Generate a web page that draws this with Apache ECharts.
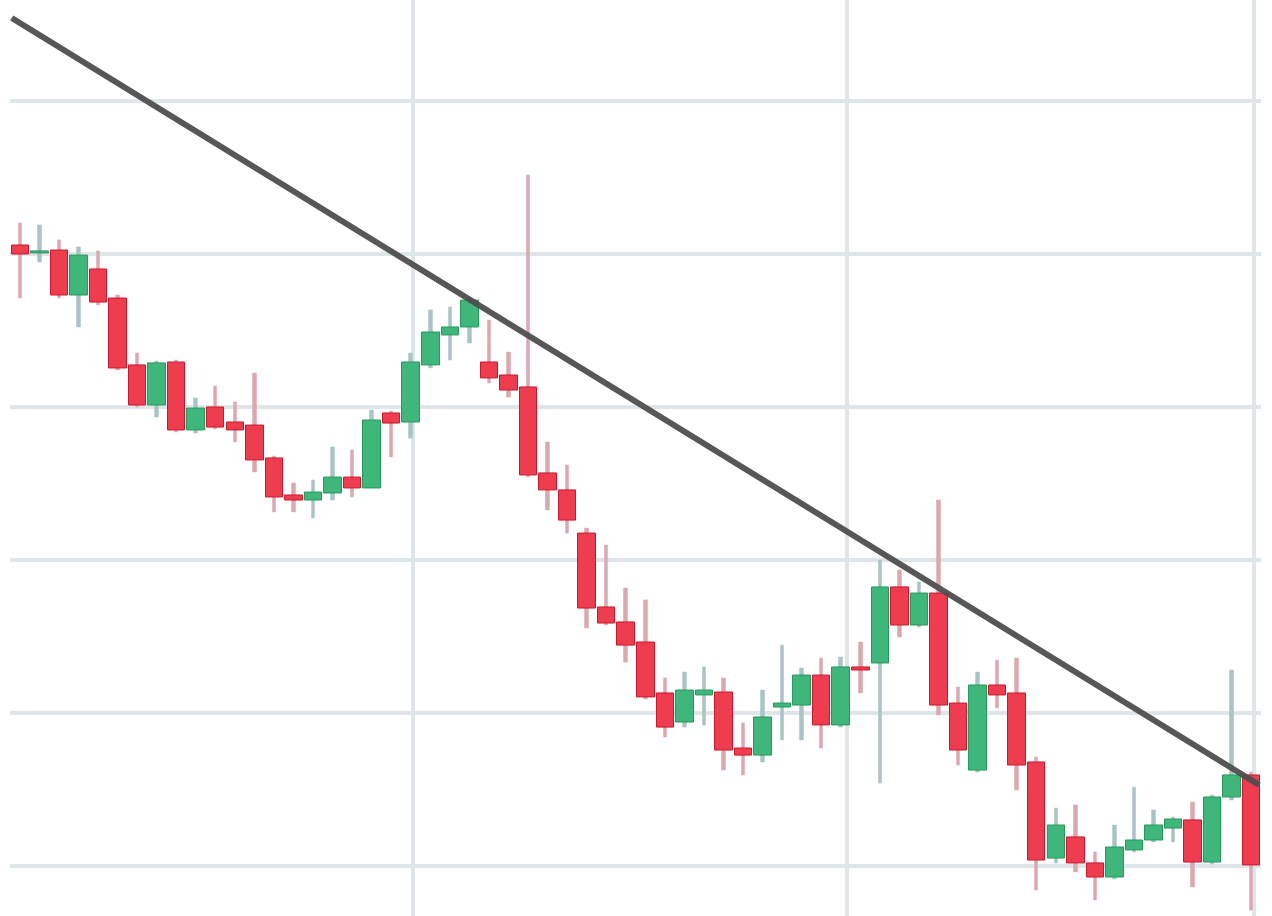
<!DOCTYPE html>
<html>
<head>
<meta charset="utf-8">
<script src="https://cdn.jsdelivr.net/npm/echarts@6/dist/echarts.min.js"></script>
<style>html,body{margin:0;padding:0;background:#fff;}#c{width:1272px;height:916px;}</style>
</head>
<body>
<div id="c"></div>
<script>
const categories = ["1","2","3","4","5","6","7","8","9","10","11","12","13","14","15","16","17","18","19","20","21","22","23","24","25","26","27","28","29","30","31","32","33","34","35","36","37","38","39","40","41","42","43","44","45","46","47","48","49","50","51","52","53","54","55","56","57","58","59","60","61","62","63","64"];
const opens  = [50.59,50.07,50.26,47.32,49.02,47.12,42.75,40.13,42.94,38.50,40.00,39.02,38.82,36.67,34.25,33.92,34.38,35.42,34.71,39.61,39.02,42.75,44.71,45.23,42.94,42.09,41.31,35.69,34.58,31.76,26.93,25.95,24.64,21.31,19.41,21.18,21.37,17.71,17.25,20.39,20.52,22.48,19.22,23.01,23.27,28.24,25.75,27.84,20.65,16.27,21.83,21.31,16.80,10.52,11.90,10.20,9.28,11.05,11.70,12.48,13.01,10.26,14.51,15.95];
const closes = [50.00,50.20,47.32,49.93,46.86,42.55,40.13,42.88,38.50,39.93,38.69,38.50,36.54,34.12,33.92,34.44,35.42,34.71,39.15,38.95,42.94,44.90,45.23,46.99,41.90,41.11,35.56,34.58,32.61,26.86,25.88,24.44,21.05,19.08,21.50,21.50,17.58,17.25,19.74,20.65,22.48,19.22,23.01,22.81,28.24,25.75,27.84,20.52,17.58,21.83,21.18,16.60,10.39,12.68,10.20,9.28,11.24,11.70,12.68,13.07,10.26,14.51,15.95,10.07];
const lows   = [47.12,49.48,47.12,45.23,46.67,42.42,40.00,39.35,38.37,38.30,38.56,37.71,35.75,33.14,33.14,32.75,33.92,34.12,34.71,36.73,37.97,42.55,43.07,44.18,41.57,40.65,35.42,33.27,31.76,25.56,25.75,23.33,20.92,18.43,19.08,19.22,16.27,15.95,16.80,18.24,18.24,17.71,19.08,21.31,15.42,24.97,25.62,19.87,16.60,16.14,20.33,14.97,8.43,10.20,9.61,7.78,9.15,10.92,11.57,11.57,8.63,10.13,14.31,7.12];
const highs  = [52.03,51.90,50.92,50.46,50.20,47.32,43.53,43.00,43.07,40.59,41.37,40.33,42.22,36.80,35.03,35.23,37.39,37.19,39.80,39.74,43.53,46.34,46.54,47.12,45.69,43.59,55.16,37.71,36.21,32.09,30.98,28.17,27.39,22.29,22.68,23.01,22.29,19.35,21.50,24.44,22.94,23.59,23.66,24.64,30.00,29.35,28.56,33.92,21.70,22.68,23.46,23.59,17.12,13.79,13.99,10.92,12.68,15.16,13.66,13.20,14.18,14.64,22.81,16.14];
const priceLevels = [10, 20, 30, 40, 50, 60];
const timeMarks = [20.1, 42.3, 63.15];
const trendX = [-0.41, 63.41];
const trendY = [65.42, 15.29];

// wick drawn as a thin candle spanning low..high, direction kept from open/close
const wickData = categories.map((c, i) => closes[i] >= opens[i]
  ? [lows[i], highs[i], lows[i], highs[i]]
  : [highs[i], lows[i], lows[i], highs[i]]);
const bodyData = categories.map((c, i) => [opens[i], closes[i], Math.min(opens[i], closes[i]), Math.max(opens[i], closes[i])]);
const trendData = trendX.map((x, i) => [x, trendY[i]]);

const gridColor = '#dfe6ea';
const chart = echarts.init(document.getElementById('c'), null, {renderer: 'canvas'});
chart.setOption({
  animation: false,
  backgroundColor: '#ffffff',
  grid: {left: 10, right: 11, top: 0, bottom: 0, containLabel: false},
  xAxis: [
    {type: 'category', data: categories, boundaryGap: true,
     axisLine: {show: false}, axisTick: {show: false}, axisLabel: {show: false}, splitLine: {show: false}},
    {type: 'value', min: -0.5, max: 63.5, show: false, splitLine: {show: false}}
  ],
  yAxis: {type: 'value', min: 6.732, max: 66.601, scale: true,
    axisLine: {show: false}, axisTick: {show: false}, axisLabel: {show: false},
    splitLine: {show: false}},
  series: [
    {type: 'candlestick', name: 'wick', data: wickData, barWidth: 4, z: 2,
     itemStyle: {color: '#aac3c5', color0: '#dca8b0', borderColor: '#aac3c5', borderColor0: '#dca8b0', borderWidth: 0.5}},
    {type: 'candlestick', name: 'body', data: bodyData, barWidth: 18, z: 3,
     itemStyle: {color: '#3fb77b', color0: '#ef3d50', borderColor: '#25985d', borderColor0: '#c8172e', borderWidth: 1}},
    {type: 'line', name: 'trend', xAxisIndex: 1, data: trendData, symbol: 'none', clip: false, z: 5,
     lineStyle: {color: '#4e4e4e', width: 6, opacity: 0.95},
     markLine: {z: 1, silent: true, symbol: 'none', label: {show: false},
       lineStyle: {type: 'solid', color: gridColor, width: 4},
       data: timeMarks.map(v => ({xAxis: v})).concat(priceLevels.map(v => ({yAxis: v})))}}
  ]
});
</script>
</body>
</html>
